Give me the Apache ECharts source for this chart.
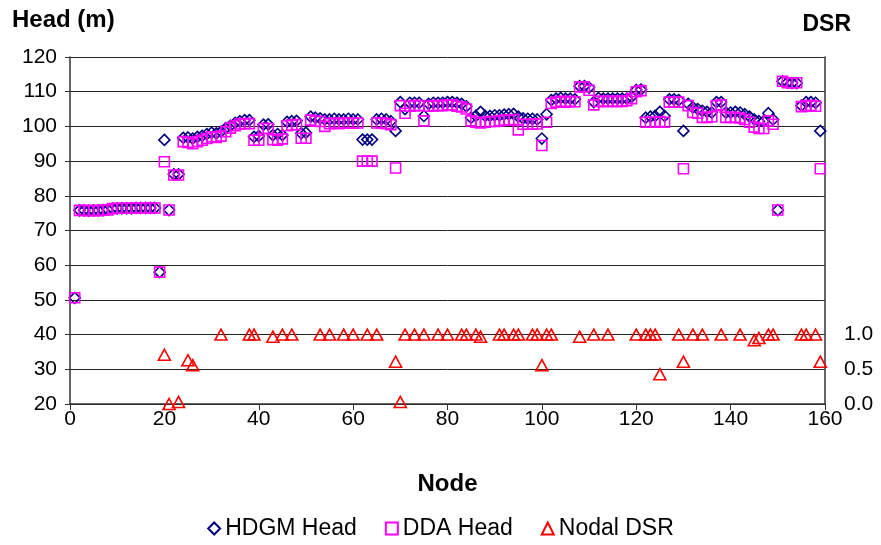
<!DOCTYPE html>
<html><head><meta charset="utf-8">
<script src="https://cdn.jsdelivr.net/npm/echarts@6/dist/echarts.min.js"></script>
<style>html,body{margin:0;padding:0;background:#fff}#c{width:881px;height:545px}</style>
</head><body><div id="c"></div>
<script>
// Node numbers 1..159
const hdgmHead = [
50.6,75.8,75.8,75.7,75.8,75.8,75.9,76.0,76.3,76.4,
76.4,76.4,76.4,76.5,76.5,76.5,76.5,76.5,58.0,96.1,
75.9,86.2,86.2,96.7,96.8,96.5,97.0,97.3,97.8,98.2,
98.0,98.5,99.5,100.2,101.0,101.5,101.8,101.8,97.0,97.2,
100.5,100.6,97.5,97.8,97.5,101.3,101.5,101.6,98.0,98.2,
102.8,102.5,102.3,102.0,102.0,102.2,102.0,102.0,102.2,102.0,
102.0,96.2,96.2,96.2,102.0,102.2,102.0,101.5,98.7,107.0,
105.0,106.8,106.8,106.8,103.0,106.5,106.8,106.8,106.8,107.0,
107.0,106.8,106.5,105.8,102.5,103.0,104.2,103.0,103.0,103.2,
103.2,103.4,103.5,103.6,102.8,102.3,102.2,102.2,102.0,96.5,
103.5,107.6,108.0,108.2,108.0,108.0,107.8,111.6,111.6,111.2,
107.0,108.2,108.0,108.0,108.0,108.0,108.0,108.0,108.5,110.5,
110.6,102.5,102.8,103.0,104.2,103.0,107.8,107.8,107.6,98.7,
106.5,105.5,105.0,104.5,104.2,104.0,107.0,107.0,104.0,104.0,
104.2,104.0,103.5,102.8,102.0,101.5,101.5,103.8,102.0,75.9,
113.0,112.6,112.5,112.5,106.0,107.0,107.0,106.8,98.7
];
const ddaHead = [
50.6,75.8,75.8,75.7,75.8,75.7,75.9,75.9,76.3,76.4,
76.4,76.4,76.4,76.5,76.5,76.5,76.5,76.5,58.0,89.8,
75.9,86.0,86.0,95.6,95.4,95.0,95.6,96.0,96.5,97.0,
96.8,97.2,98.5,99.5,100.2,100.7,100.8,100.8,96.0,96.0,
99.4,99.4,96.2,96.0,96.4,100.2,100.4,100.5,96.6,96.6,
101.8,101.5,101.4,100.0,100.8,101.0,100.8,101.0,101.0,100.9,
101.0,90.0,90.0,90.0,101.0,101.0,100.8,100.5,88.0,106.0,
103.8,105.8,106.0,106.0,101.6,105.8,106.0,106.0,106.0,106.2,
106.2,105.8,105.6,105.0,101.6,101.2,101.0,101.2,101.4,101.4,
101.6,101.8,101.8,102.0,99.0,100.6,100.6,100.6,100.7,94.5,
101.2,106.6,107.0,107.2,107.0,107.2,107.1,111.4,111.4,110.4,
106.2,107.2,107.2,107.2,107.2,107.2,107.2,107.4,108.0,110.0,
110.3,101.2,101.2,101.2,101.4,101.2,107.0,107.0,107.0,87.8,
106.0,104.0,103.8,102.6,102.6,102.8,106.0,106.2,102.6,102.6,
102.6,102.4,102.0,101.2,99.8,99.4,99.4,101.6,100.6,75.9,
113.0,112.6,112.5,112.6,105.7,106.0,106.0,105.8,87.8
];
// Nodal DSR: [node, value]
const dsrNodes = [20,21,23,25,26,32,38,39,43,45,47,53,55,58,60,63,65,69,70,71,73,75,78,80,83,84,86,87,91,92,94,95,98,99,100,101,102,108,111,114,120,122,123,124,125,129,130,132,134,138,142,145,146,148,149,155,156,158,159];
const dsrValues = [0.71,0.0,0.03,0.63,0.56,1.0,1.0,1.0,0.97,1.0,1.0,1.0,1.0,1.0,1.0,1.0,1.0,0.61,0.03,1.0,1.0,1.0,1.0,1.0,1.0,1.0,1.0,0.97,1.0,1.0,1.0,1.0,1.0,1.0,0.56,1.0,1.0,0.97,1.0,1.0,1.0,1.0,1.0,1.0,0.43,1.0,0.61,1.0,1.0,1.0,1.0,0.92,0.95,1.0,1.0,1.0,1.0,1.0,0.61];
const xTicks = [0,20,40,60,80,100,120,140,160];
const leftTicks = [20,30,40,50,60,70,80,90,100,110,120];
const rightTicks = ['0.0','0.5','1.0'];

const hdgmData = hdgmHead.map((v,i)=>[i+1,v]);
const ddaData = ddaHead.map((v,i)=>[i+1,v]);
const dsrData = dsrNodes.map((n,i)=>[n,dsrValues[i]]);

const FONT = 'Liberation Sans';
const chart = echarts.init(document.getElementById('c'), null, {renderer:'canvas'});
chart.setOption({
  animation:false,
  backgroundColor:'#fff',
  textStyle:{fontFamily:FONT},
  grid:{left:70,right:56,top:57,bottom:141},
  graphic:[
    {type:'text',left:12,top:8,style:{text:'Head (m)',font:'bold 24px "Liberation Sans"',fill:'#000'}},
    {type:'text',right:30,top:13,style:{text:'DSR',font:'bold 23px "Liberation Sans"',fill:'#000'}}
  ],
  legend:{
    bottom:0,left:'center',itemGap:28,itemWidth:12,itemHeight:12,
    textStyle:{fontSize:23,color:'#000',fontFamily:FONT},
    data:[{name:'HDGM Head',icon:'diamond'},{name:'DDA Head',icon:'rect'},{name:'Nodal DSR',icon:'triangle'}]
  },
  xAxis:{
    type:'value',min:xTicks[0],max:xTicks[xTicks.length-1],interval:20,
    name:'Node',nameLocation:'middle',nameGap:68,
    nameTextStyle:{fontSize:24,fontWeight:'bold',color:'#000',fontFamily:FONT},
    axisLine:{lineStyle:{color:'#333',width:1.5}},
    axisTick:{show:true,length:6,lineStyle:{color:'#333'}},
    axisLabel:{fontSize:21,color:'#000',margin:5,fontFamily:FONT},
    splitLine:{show:false}
  },
  yAxis:[{
    type:'value',min:leftTicks[0],max:leftTicks[leftTicks.length-1],interval:10,position:'left',
    axisLine:{show:true,lineStyle:{color:'#333',width:1.5}},
    axisTick:{show:true,length:5,lineStyle:{color:'#333'}},
    axisLabel:{fontSize:21,color:'#000',margin:13,fontFamily:FONT},
    splitLine:{show:true,lineStyle:{color:'#222',width:1}}
  },{
    type:'value',min:0,max:5,interval:0.5,position:'right',
    axisLine:{show:true,lineStyle:{color:'#333',width:1.5}},
    axisTick:{show:true,length:5,inside:true,lineStyle:{color:'#333'}},
    axisLabel:{fontSize:21,color:'#000',margin:19,fontFamily:FONT,
      formatter:function(v){const s=v.toFixed(1);return rightTicks.indexOf(s)>=0?s:'';}},
    splitLine:{show:false}
  }],
  series:[{
    name:'HDGM Head',type:'scatter',symbol:'diamond',symbolSize:[11,11],
    itemStyle:{color:'rgba(0,0,0,0)',borderColor:'#000080',borderWidth:1.6,opacity:1},
    data:hdgmData,z:2
  },{
    name:'DDA Head',type:'scatter',symbol:'rect',symbolSize:[10,10],
    itemStyle:{color:'rgba(0,0,0,0)',borderColor:'#FF00FF',borderWidth:1.6,opacity:1},
    data:ddaData,z:3
  },{
    name:'Nodal DSR',type:'scatter',yAxisIndex:1,symbol:'triangle',symbolSize:[12,11],
    itemStyle:{color:'rgba(0,0,0,0)',borderColor:'#FF0000',borderWidth:1.6,opacity:1},
    data:dsrData,z:4
  }]
});
</script></body></html>
